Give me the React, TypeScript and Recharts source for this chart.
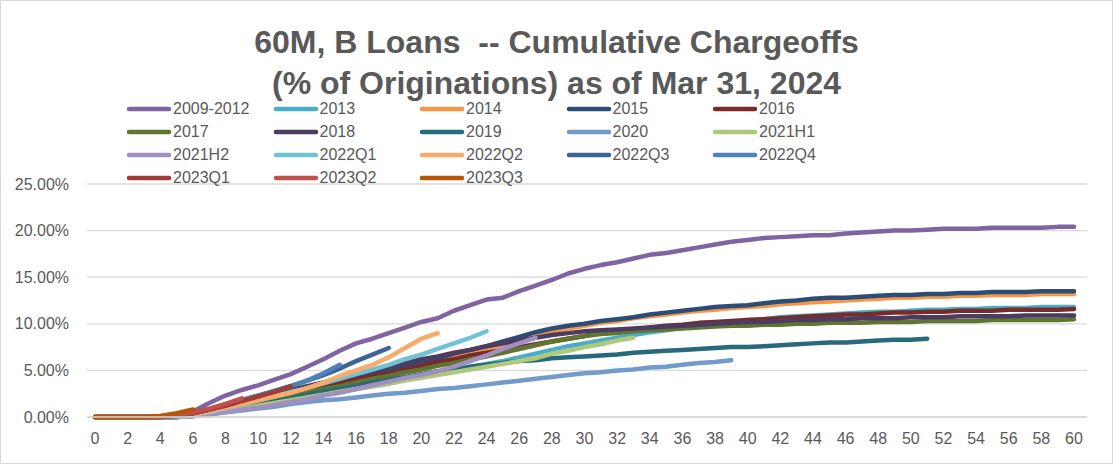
import { LineChart, Line, XAxis, YAxis, CartesianGrid, Legend } from 'recharts';

// cumulative chargeoffs, % of originations, by months on book
const V2009_2012 = [0, 0, 0, 0, 0, 0.2, 0.6, 1.5, 2.3, 2.9, 3.4, 4.0, 4.6, 5.4, 6.2, 7.1, 7.9, 8.4, 9.0, 9.6, 10.2, 10.6, 11.4, 12.0, 12.6, 12.8, 13.5, 14.1, 14.7, 15.4, 15.9, 16.3, 16.6, 17.0, 17.4, 17.6, 17.9, 18.2, 18.5, 18.8, 19.0, 19.2, 19.3, 19.4, 19.5, 19.5, 19.7, 19.8, 19.9, 20.0, 20.0, 20.1, 20.2, 20.2, 20.2, 20.3, 20.3, 20.3, 20.3, 20.4, 20.4];
const V2013 = [0, 0, 0, 0, 0, 0, 0.1, 0.3, 0.6, 0.9, 1.2, 1.5, 1.8, 2.1, 2.4, 2.7, 3.0, 3.3, 3.6, 4.0, 4.3, 4.7, 5.0, 5.4, 5.7, 6.0, 6.4, 6.8, 7.2, 7.6, 7.9, 8.2, 8.5, 8.8, 9.1, 9.3, 9.6, 9.8, 10.0, 10.2, 10.4, 10.5, 10.7, 10.8, 10.9, 11.0, 11.1, 11.2, 11.3, 11.3, 11.4, 11.5, 11.5, 11.6, 11.6, 11.7, 11.7, 11.7, 11.8, 11.8, 11.8];
const V2014 = [0, 0, 0, 0, 0, 0, 0.2, 0.5, 0.9, 1.3, 1.7, 2.1, 2.5, 2.9, 3.3, 3.7, 4.1, 4.5, 4.9, 5.3, 5.7, 6.1, 6.5, 6.9, 7.3, 7.8, 8.3, 8.8, 9.2, 9.5, 9.8, 10.1, 10.3, 10.6, 10.8, 11.0, 11.2, 11.4, 11.5, 11.7, 11.8, 11.9, 12.1, 12.2, 12.3, 12.4, 12.5, 12.6, 12.7, 12.8, 12.8, 12.9, 12.9, 13.0, 13.0, 13.1, 13.1, 13.1, 13.2, 13.2, 13.2];
const V2015 = [0, 0, 0, 0, 0, 0.1, 0.3, 0.6, 1.0, 1.4, 1.8, 2.2, 2.6, 3.0, 3.4, 3.8, 4.2, 4.6, 5.0, 5.4, 5.8, 6.3, 6.8, 7.2, 7.6, 8.1, 8.6, 9.1, 9.5, 9.8, 10.0, 10.3, 10.5, 10.7, 11.0, 11.2, 11.4, 11.6, 11.8, 11.9, 12.0, 12.2, 12.4, 12.5, 12.7, 12.8, 12.8, 12.9, 13.0, 13.1, 13.1, 13.2, 13.2, 13.3, 13.3, 13.4, 13.4, 13.4, 13.5, 13.5, 13.5];
const V2016 = [0, 0, 0, 0, 0, 0, 0.2, 0.5, 0.9, 1.3, 1.7, 2.1, 2.4, 2.8, 3.2, 3.6, 4.0, 4.4, 4.7, 5.1, 5.5, 5.9, 6.2, 6.6, 6.9, 7.2, 7.5, 7.8, 8.1, 8.4, 8.7, 9.0, 9.2, 9.4, 9.6, 9.8, 9.9, 10.1, 10.2, 10.3, 10.4, 10.5, 10.6, 10.7, 10.8, 10.9, 11.0, 11.0, 11.1, 11.2, 11.2, 11.3, 11.3, 11.4, 11.4, 11.4, 11.5, 11.5, 11.5, 11.5, 11.6];
const V2017 = [0, 0, 0, 0, 0, 0, 0.2, 0.4, 0.8, 1.1, 1.5, 1.9, 2.2, 2.6, 3.0, 3.3, 3.7, 4.1, 4.4, 4.8, 5.1, 5.5, 5.8, 6.2, 6.5, 6.9, 7.3, 7.7, 8.1, 8.4, 8.7, 8.9, 9.0, 9.2, 9.3, 9.4, 9.5, 9.6, 9.7, 9.8, 9.8, 9.9, 9.9, 10.0, 10.0, 10.1, 10.1, 10.1, 10.2, 10.2, 10.2, 10.3, 10.3, 10.3, 10.3, 10.4, 10.4, 10.4, 10.4, 10.4, 10.5];
const V2018 = [0, 0, 0, 0, 0, 0, 0.3, 0.7, 1.1, 1.5, 2.0, 2.4, 2.9, 3.3, 3.7, 4.1, 4.6, 5.0, 5.4, 5.8, 6.2, 6.5, 6.9, 7.2, 7.6, 7.9, 8.2, 8.5, 8.8, 9.0, 9.2, 9.3, 9.4, 9.5, 9.6, 9.7, 9.8, 9.9, 10.0, 10.1, 10.2, 10.2, 10.3, 10.4, 10.4, 10.5, 10.5, 10.6, 10.6, 10.6, 10.7, 10.7, 10.7, 10.8, 10.8, 10.8, 10.8, 10.9, 10.9, 10.9, 10.9];
const V2019 = [0, 0, 0, 0, 0, 0, 0.1, 0.4, 0.7, 1.0, 1.4, 1.7, 2.0, 2.4, 2.7, 3.0, 3.3, 3.7, 4.0, 4.3, 4.6, 4.9, 5.1, 5.4, 5.6, 5.8, 6.0, 6.1, 6.3, 6.4, 6.5, 6.6, 6.7, 6.9, 7.0, 7.1, 7.2, 7.3, 7.4, 7.5, 7.5, 7.6, 7.7, 7.8, 7.9, 8.0, 8.0, 8.1, 8.2, 8.3, 8.3, 8.4];
const V2020 = [0, 0, 0, 0, 0, 0, 0.1, 0.3, 0.5, 0.7, 0.9, 1.1, 1.4, 1.6, 1.8, 1.9, 2.1, 2.3, 2.5, 2.6, 2.8, 3.0, 3.1, 3.3, 3.5, 3.7, 3.9, 4.1, 4.3, 4.5, 4.7, 4.8, 5.0, 5.1, 5.3, 5.4, 5.6, 5.8, 5.9, 6.1];
const V2021H1 = [0, 0, 0, 0, 0, 0, 0.1, 0.3, 0.6, 0.9, 1.2, 1.5, 1.8, 2.1, 2.4, 2.7, 3.0, 3.3, 3.6, 3.9, 4.2, 4.5, 4.8, 5.1, 5.4, 5.7, 6.0, 6.3, 6.8, 7.1, 7.5, 7.8, 8.2, 8.5];
const V2021H2 = [0, 0, 0, 0, 0, 0, 0.1, 0.3, 0.5, 0.8, 1.0, 1.3, 1.6, 1.9, 2.3, 2.6, 3.0, 3.4, 3.8, 4.2, 4.5, 4.9, 5.4, 6.0, 6.6, 7.3, 7.9, 8.5];
const V2022Q1 = [0, 0, 0, 0, 0, 0, 0.2, 0.5, 0.9, 1.3, 1.8, 2.2, 2.7, 3.1, 3.6, 4.1, 4.6, 5.1, 5.6, 6.2, 6.7, 7.3, 7.9, 8.5, 9.2];
const V2022Q2 = [0, 0, 0, 0, 0, 0.1, 0.3, 0.6, 1.0, 1.4, 1.8, 2.2, 2.6, 3.1, 3.7, 4.4, 5.0, 5.6, 6.4, 7.4, 8.4, 9.0];
const V2022Q3 = [0, 0, 0, 0, 0, 0.1, 0.4, 0.8, 1.3, 1.8, 2.3, 2.8, 3.3, 3.9, 4.5, 5.2, 6.0, 6.7, 7.4];
const V2022Q4 = [0, 0, 0, 0, 0, 0.1, 0.4, 0.8, 1.3, 1.8, 2.3, 2.8, 3.3, 3.9, 4.7, 5.6];
const V2023Q1 = [0, 0, 0, 0, 0, 0.2, 0.4, 0.8, 1.2, 1.7, 2.2, 2.7, 3.3];
const V2023Q2 = [0, 0, 0, 0, 0, 0.2, 0.5, 0.9, 1.4, 2.0];
const V2023Q3 = [0, 0, 0, 0, 0.1, 0.4, 0.8];

const MONTHS = Array.from({ length: 61 }, (_, i) => i);
const Y_TICKS = [0, 5, 10, 15, 20, 25];

const SERIES = [
  { name: '2009-2012', color: '#8064A2', values: V2009_2012 },
  { name: '2013', color: '#4BACC6', values: V2013 },
  { name: '2014', color: '#F79646', values: V2014 },
  { name: '2015', color: '#2C4D75', values: V2015 },
  { name: '2016', color: '#772C2A', values: V2016 },
  { name: '2017', color: '#5F7530', values: V2017 },
  { name: '2018', color: '#4D3B62', values: V2018 },
  { name: '2019', color: '#276A7C', values: V2019 },
  { name: '2020', color: '#729ACA', values: V2020 },
  { name: '2021H1', color: '#AFC97A', values: V2021H1 },
  { name: '2021H2', color: '#A18FC0', values: V2021H2 },
  { name: '2022Q1', color: '#72C2D6', values: V2022Q1 },
  { name: '2022Q2', color: '#F9AB6B', values: V2022Q2 },
  { name: '2022Q3', color: '#3C6496', values: V2022Q3 },
  { name: '2022Q4', color: '#4F81BD', values: V2022Q4 },
  { name: '2023Q1', color: '#A13B38', values: V2023Q1 },
  { name: '2023Q2', color: '#C0504D', values: V2023Q2 },
  { name: '2023Q3', color: '#B65708', values: V2023Q3 },
];

const data = MONTHS.map((m, i) => {
  const row: Record<string, number | null> = { month: m };
  SERIES.forEach((s) => {
    row[s.name] = i < s.values.length ? s.values[i] : null;
  });
  return row;
});

const FONT = "'Liberation Sans', Arial, sans-serif";
const GREY = '#595959';

function LegendGrid(props: any) {
  const items = props.payload || [];
  return (
    <div
      style={{
        display: 'grid',
        gridTemplateColumns: 'repeat(5, 146.5px)',
        fontFamily: FONT,
        fontSize: 16,
        color: GREY,
      }}
    >
      {items.map((it: any) => (
        <div key={it.value} style={{ display: 'flex', alignItems: 'center', height: 23 }}>
          <svg width={46} height={8} style={{ marginRight: 1 }}>
            <line x1={3} y1={4} x2={43} y2={4} stroke={it.color} strokeWidth={4.5} strokeLinecap="round" />
          </svg>
          <span>{it.value}</span>
        </div>
      ))}
    </div>
  );
}

export default function App() {
  return (
    <div style={{ position: 'absolute', left: 0, top: 0, width: 1113, height: 464, background: '#fff' }}>
      <div
        style={{
          position: 'absolute',
          left: 0,
          top: 22,
          width: 1113,
          textAlign: 'center',
          fontFamily: FONT,
          fontWeight: 'bold',
          fontSize: 32,
          lineHeight: '41px',
          color: GREY,
          zIndex: 2,
          pointerEvents: 'none',
        }}
      >
        <div>60M, B Loans&nbsp; -- Cumulative Chargeoffs</div>
        <div>(% of Originations) as of Mar 31, 2024</div>
      </div>
      <LineChart width={1113} height={464} data={data} margin={{ top: 92, right: 26, bottom: 17, left: 7 }}>
        <CartesianGrid vertical={false} stroke="#D9D9D9" strokeWidth={1.3} />
        <XAxis
          dataKey="month"
          interval={1}
          padding={{ left: 8, right: 13 }}
          tickLine={false}
          axisLine={{ stroke: '#D9D9D9', strokeWidth: 1.3 }}
          tick={{ fill: GREY, fontSize: 16, fontFamily: FONT }}
          tickMargin={10}
        />
        <YAxis
          width={80}
          domain={[0, 25]}
          ticks={Y_TICKS}
          tickFormatter={(v: number) => v.toFixed(2) + '%'}
          tickLine={false}
          axisLine={false}
          tick={{ fill: GREY, fontSize: 16, fontFamily: FONT }}
          tickMargin={12}
        />
        <Legend
          verticalAlign="top"
          align="left"
          content={<LegendGrid />}
          wrapperStyle={{ left: 126, top: 97, width: 740 }}
        />
        {SERIES.map((s) => (
          <Line
            key={s.name}
            dataKey={s.name}
            name={s.name}
            stroke={s.color}
            strokeWidth={4.5}
            strokeLinecap="round"
            strokeLinejoin="round"
            dot={false}
            activeDot={false}
            type="linear"
            isAnimationActive={false}
          />
        ))}
      </LineChart>
      <div
        style={{
          position: 'absolute',
          left: 0,
          top: 0,
          width: 1113,
          height: 464,
          boxSizing: 'border-box',
          border: '1px solid #D9D9D9',
          pointerEvents: 'none',
        }}
      />
    </div>
  );
}
